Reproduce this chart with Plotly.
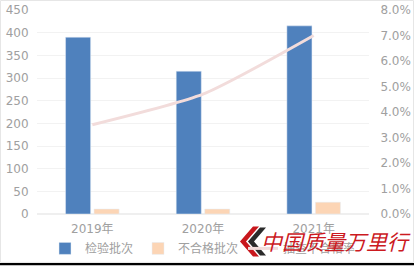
import plotly.graph_objects as go

years = ["2019年", "2020年", "2021年"]
inspected = [390, 315, 415]
failed = [11, 11, 26]
fail_rate = [0.035, 0.047, 0.070]

W, H = 414, 266
L, R, T, B = 37, 45, 10, 51.5
PW, PH = W - L - R, H - T - B

def px(x):
    return (x - L) / PW

def py(y):
    return (H - B - y) / PH

font = "DejaVu Sans, Noto Sans CJK SC, sans-serif"
grey = "#a0a0a0"
clear = "rgba(0,0,0,0)"

fig = go.Figure()
fig.add_trace(go.Bar(x=years, y=inspected, name="检验批次", marker_color="#4f81bd"))
fig.add_trace(go.Bar(x=years, y=failed, name="不合格批次", marker_color="#fcd5b5"))
fig.add_trace(go.Scatter(x=years, y=fail_rate, name="抽查不合格率", yaxis="y2",
                         mode="lines", line=dict(color="#f2dcdb", width=3, shape="spline", smoothing=0.6)))

shapes = []
shapes.append(dict(type="rect", xref="paper", yref="paper", x0=px(0.5), x1=px(413.5), y0=py(263), y1=py(0.5),
                   line=dict(color="#e6e6e6", width=1), layer="below"))
shapes.append(dict(type="rect", xref="paper", yref="paper", x0=px(0), x1=px(414), y0=py(266), y1=py(263.5),
                   line=dict(width=0), fillcolor="#000000"))

def chevron(pts, color):
    d = "M " + " L ".join(f"{px(a):.4f},{py(b):.4f}" for a, b in pts) + " Z"
    return dict(type="path", xref="paper", yref="paper", path=d, fillcolor=color, line=dict(width=0))
shapes.append(chevron([(253, 227), (259, 227), (246, 242), (259, 257), (253, 257), (240, 242)], "#c8171d"))
shapes.append(chevron([(260, 228), (266, 228), (254, 242), (266, 256), (260, 256), (248, 242)], "#2b2b2b"))

fig.update_layout(
    width=W, height=H,
    margin=dict(l=L, r=R, t=T, b=B, autoexpand=False),
    paper_bgcolor="white", plot_bgcolor="white",
    barmode="group", bargap=0.485, bargroupgap=0.12,
    font=dict(family=font, size=12, color=grey),
    xaxis=dict(showgrid=False, showline=False, ticks="outside", ticklen=4, tickcolor=clear,
               automargin=False, tickfont=dict(size=12, color=grey)),
    yaxis=dict(range=[0, 450], dtick=50, showgrid=True, gridcolor="#f2f2f2", gridwidth=1,
               zeroline=True, zerolinecolor="#efefef", ticks="outside", ticklen=5, tickcolor=clear,
               automargin=False, tickfont=dict(size=12, color=grey)),
    yaxis2=dict(range=[0, 0.08], dtick=0.01, tickformat=".1%", overlaying="y", side="right",
                showgrid=False, zeroline=False, ticks="outside", ticklen=8, tickcolor=clear,
                automargin=False, tickfont=dict(size=12, color=grey)),
    legend=dict(orientation="h", x=0.5, xanchor="center", y=py(249), yanchor="middle",
                font=dict(size=12, color=grey), itemwidth=30, bgcolor=clear,
                traceorder="normal"),
    shapes=shapes,
    annotations=[dict(text="<i>中国质量万里行</i>", xref="paper", yref="paper", x=px(336), y=py(242),
                      showarrow=False, font=dict(family="Noto Sans CJK SC", size=21, color="#cc1a1f"),
                      xanchor="center", yanchor="middle")],
)

fig.write_html("out.html")
